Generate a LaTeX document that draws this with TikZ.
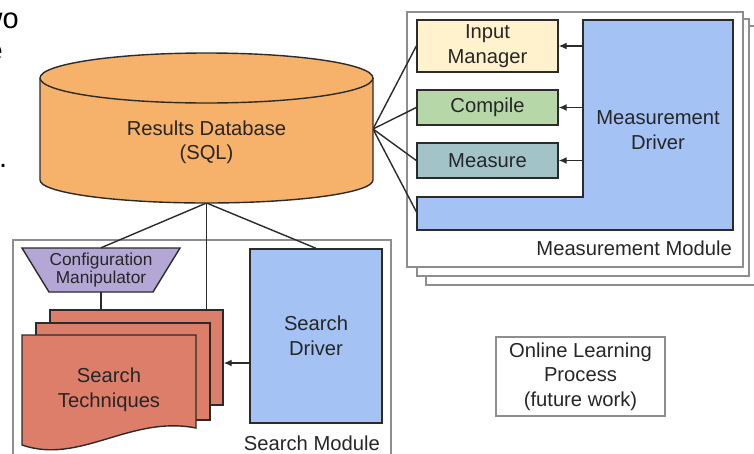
\documentclass[tikz,border=0pt]{standalone}
\usepackage{fontspec}
\setmainfont{Liberation Sans}
\usetikzlibrary{arrows.meta}
\definecolor{dbfill}{HTML}{F6B26B}
\definecolor{imfill}{HTML}{FFF2CC}
\definecolor{cpfill}{HTML}{B6D7A8}
\definecolor{msfill}{HTML}{A2C4C9}
\definecolor{drvfill}{HTML}{A4C2F4}
\definecolor{cfgfill}{HTML}{B4A7D6}
\definecolor{stfill}{HTML}{DD7E6B}
\definecolor{framegray}{HTML}{8E8E8E}
\definecolor{ink}{HTML}{2B2B2B}
\definecolor{txt}{HTML}{262626}
\tikzset{
 lbl/.style={font=\fontsize{20.2}{24.5}\selectfont, text=txt, align=center, inner sep=0pt},
 smalllbl/.style={font=\fontsize{17.3}{18}\selectfont, text=txt, align=center, inner sep=0pt},
 shapebox/.style={draw=ink, line width=1.4pt},
 modframe/.style={draw=framegray, line width=1.2pt, fill=white, inner sep=0pt},
 conn/.style={draw=ink, line width=1.4pt},
 arr/.style={conn, -{Latex[length=8pt,width=7pt]}},
 slidetxt/.style={font=\fontsize{29}{34}\selectfont, text=black, inner sep=0pt},
}
\begin{document}
\begin{tikzpicture}[x=1pt,y=-1pt]
\useasboundingbox (0,0) rectangle (754,453);
\clip (0,0) rectangle (754,453);
\fill[white] (0,0) rectangle (754,453);

% slide text fragments at the left edge (clipped in the reference)
\node[slidetxt, anchor=base east] (f1) at (19,28) {two};
\node[slidetxt, anchor=base east] (f2) at (3,60) {e};
\node[slidetxt, anchor=base east] (f3) at (7.5,167) {.};

% module frames
\node[modframe, minimum width=334pt, minimum height=259pt] (mm3) at (593,155.5) {};
\node[modframe, minimum width=332pt, minimum height=257pt] (mm2) at (583,147.5) {};
\node[modframe, minimum width=336pt, minimum height=255pt] (mm1) at (575,139.5) {};
\node[lbl, anchor=base east] (mmlbl) at (732,255) {Measurement Module};

\node[modframe, minimum width=378pt, minimum height=230pt] (sm) at (202,355) {};
\node[lbl, anchor=base east] (smlbl) at (380,450) {Search Module};

% measurement module contents
\draw[shapebox, fill=drvfill] (583,20) -- (733,20) -- (733,230) -- (417,230) -- (417,197) -- (583,197) -- cycle;
\node[lbl] (md) at (658,130) {Measurement\\Driver};
\coordinate (mdedge) at (583,0);
\coordinate (mdfoot) at (417,213);

\node[shapebox, fill=imfill, lbl, minimum width=141pt, minimum height=52pt] (im) at (487.5,46) {Input\\Manager};
\node[shapebox, fill=cpfill, lbl, minimum width=141pt, minimum height=35pt] (cp) at (487.5,107.5) {Compile};
\node[shapebox, fill=msfill, lbl, minimum width=141pt, minimum height=35pt] (ms) at (487.5,160.5) {Measure};

\draw[arr] (mdedge |- im.east) -- (im.east);
\draw[arr] (mdedge |- cp.east) -- (cp.east);
\draw[arr] (mdedge |- ms.east) -- (ms.east);

% search module contents
\draw[shapebox, fill=cfgfill] (22,248) -- (180,248) -- (153,292) -- (49,292) -- cycle;
\node[smalllbl, minimum width=158pt, minimum height=44pt] (cfg) at (101,270) {Configuration\\Manipulator};

\node[shapebox, fill=stfill, minimum width=173pt, minimum height=95pt, inner sep=0pt] (back) at (136.5,357.5) {};
\node[shapebox, fill=stfill, minimum width=174pt, minimum height=97pt, inner sep=0pt] (mid) at (123,371.5) {};
\draw[shapebox, fill=stfill] (22,335) -- (196,335) -- (196,428) .. controls (130,415) and (80,465) .. (22,445) -- cycle;
\node[lbl] (st) at (109,390) {Search\\Techniques};

\node[shapebox, fill=drvfill, lbl, minimum width=132pt, minimum height=174pt] (sd) at (316,336) {Search\\Driver};
\coordinate (sarr) at (0,363);
\draw[arr] (sd.west |- sarr) -- (back.east |- sarr);

% online learning
\node[draw=framegray, line width=1.2pt, lbl, minimum width=169pt, minimum height=79pt] (ol) at (580.5,376.5) {Online Learning\\Process\\(future work)};

% database
\coordinate (dbR) at (373,129);
\coordinate (dbB) at (206.5,203);
\draw[conn] (dbR) -- (im.west);
\draw[conn] (dbR) -- (cp.west);
\draw[conn] (dbR) -- (ms.west);
\draw[conn] (dbR) -- (mdfoot);
\draw[conn] (dbB) -- (cfg.north);
\draw[conn] (dbB) -- (dbB |- back.north);
\draw[conn] (dbB) -- (sd.north);
\draw[conn] (cfg.south) -- (cfg.south |- back.north);

\path[fill=dbfill] (40,78) -- (40,180) arc[start angle=180, end angle=0, x radius=166.5, y radius=23] -- (373,78) -- cycle;
\draw[shapebox, fill=dbfill] (206.5,78) ellipse [x radius=166.5, y radius=25];
\draw[shapebox] (40,78) -- (40,180) arc[start angle=180, end angle=0, x radius=166.5, y radius=23] -- (373,78);
\node[lbl] (db) at (206.5,142.5) {Results Database\\(SQL)};
\end{tikzpicture}
\end{document}
